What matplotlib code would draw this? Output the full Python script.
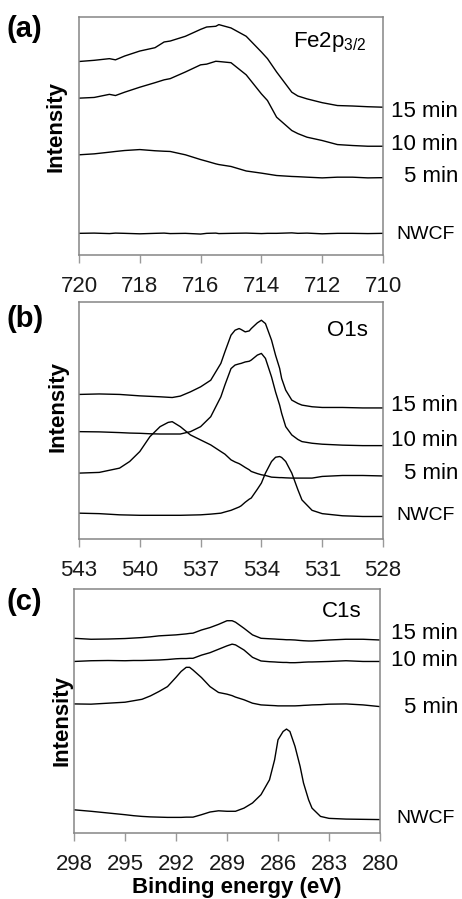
import matplotlib
matplotlib.use('Agg')
import matplotlib.pyplot as plt
import matplotlib.transforms as mtransforms
import numpy as np

plt.rcParams['font.family'] = ['Liberation Sans', 'DejaVu Sans']
plt.rcParams['mathtext.default'] = 'regular'

labels = ['15 min', '10 min', '5 min', 'NWCF']

# Fe2p3/2 region
fe_be = [720, 719.5, 719, 718.8, 718.5, 718, 717.5, 717.2, 717, 716.5, 716, 715.8, 715.5, 715.4,
         715, 714.5, 714, 713.8, 713.5, 713, 712.8, 712.5, 712, 711.5, 711, 710.5, 710]
fe_15 = [81.3, 81.8, 82.5, 82.0, 83.6, 85.7, 87.1, 89.5, 89.9, 91.9, 94.8, 95.8, 96.1, 96.8,
         95.4, 91.9, 85.3, 82.5, 76.9, 68.4, 66.8, 65.6, 64.0, 62.8, 62.6, 62.3, 62.1]
fe_10 = [65.9, 66.2, 67.5, 67.0, 68.4, 70.5, 72.4, 73.6, 74.1, 76.9, 79.9, 80.2, 81.4, 81.3,
         80.8, 75.7, 67.7, 64.9, 57.9, 52.3, 51.0, 49.5, 48.1, 46.4, 46.0, 45.7, 45.7]
fe_5 = [42.1, 42.5, 43.2, 43.5, 43.9, 44.3, 43.8, 43.6, 43.5, 42.1, 40.1, 39.4, 38.3, 38.0,
        37.2, 35.3, 34.4, 34.0, 33.4, 33.0, 32.9, 32.7, 32.4, 32.7, 32.7, 32.4, 32.5]
fe_nw = [9.1, 9.2, 9.0, 9.2, 9.1, 8.9, 9.1, 9.2, 9.0, 9.1, 8.8, 9.1, 9.2, 9.0,
         9.1, 9.2, 9.0, 9.1, 9.1, 9.3, 9.1, 9.2, 8.9, 9.1, 9.1, 9.0, 9.1]

# O1s region
o_be = [543, 542, 541, 540.5, 540, 539.5, 539, 538.6, 538.4, 538, 537.5, 537, 536.5, 536, 535.8,
        535.5, 535.3, 535.1, 535, 534.8, 534.6, 534.5, 534.2, 534, 533.8, 533.5, 533.3, 533.1,
        533, 532.8, 532.5, 532.2, 532, 531.5, 531, 530, 529, 528]
o_15 = [61.0, 61.2, 61.0, 60.7, 60.4, 60.2, 60.0, 59.8, 59.7, 60.3, 62.1, 64.2, 67.0, 74.1, 79.0,
        86.0, 88.1, 88.8, 88.4, 87.4, 87.8, 88.8, 91.2, 92.3, 90.9, 83.9, 77.5, 72.0,
        67.7, 62.8, 58.6, 57.2, 56.5, 55.8, 55.5, 55.5, 55.3, 55.3]
o_10 = [45.3, 45.2, 44.9, 44.7, 44.6, 44.4, 44.3, 44.3, 44.3, 44.3, 45.3, 47.4, 51.6, 60.0, 65.0,
        71.9, 73.4, 73.9, 74.1, 74.7, 75.0, 75.5, 77.6, 78.3, 76.2, 68.4, 62.0, 56.5,
        53.0, 47.4, 43.9, 42.0, 41.1, 40.4, 40.0, 39.6, 39.4, 39.4]
o_5 = [27.8, 28.1, 29.9, 32.7, 36.9, 43.2, 47.4, 49.2, 49.5, 47.4, 43.9, 41.8, 39.7, 36.9, 35.8,
       33.4, 32.5, 31.8, 31.3, 30.2, 29.2, 28.5, 27.6, 27.1, 26.8, 26.1, 26.0, 25.9,
       25.9, 25.8, 25.7, 25.7, 25.7, 25.7, 26.4, 26.8, 26.8, 26.6]
o_nw = [10.9, 10.7, 10.2, 10.1, 10.0, 10.0, 10.0, 10.0, 10.0, 10.0, 10.1, 10.2, 10.5, 10.9, 11.4,
        12.1, 12.8, 13.5, 14.0, 15.5, 16.8, 17.3, 21.0, 23.6, 27.8, 32.7, 34.5, 34.8,
        34.4, 32.7, 27.8, 20.8, 16.5, 12.1, 10.7, 9.8, 9.5, 9.5]

# C1s region
c_be = [298, 297, 296, 295, 294.5, 294, 293.5, 293, 292.5, 292, 291.7, 291.4, 291.2, 291, 290.5,
        290, 289.5, 289, 288.7, 288.5, 288, 287.5, 287, 286.5, 286.2, 286, 285.7, 285.5, 285.3,
        285, 284.7, 284.5, 284.2, 284, 283.5, 283, 282, 281, 280]
c_15 = [79.8, 79.4, 79.5, 79.7, 79.9, 80.1, 80.4, 80.8, 81.0, 81.2, 81.4, 81.6, 81.8, 81.9, 83.2,
        84.2, 85.5, 87.0, 87.0, 86.4, 83.9, 81.2, 79.8, 79.6, 79.5, 79.4, 79.3, 79.2, 79.2,
        79.1, 78.9, 78.8, 78.7, 78.7, 78.9, 79.1, 79.4, 79.4, 79.1]
c_10 = [70.3, 70.6, 70.7, 70.6, 70.7, 70.7, 70.8, 70.9, 71.1, 71.4, 71.5, 71.5, 71.6, 71.6, 72.9,
        73.9, 75.3, 76.7, 77.4, 77.1, 75.0, 72.0, 70.5, 70.2, 70.1, 70.0, 69.9, 69.9, 69.8,
        69.8, 69.9, 70.0, 70.1, 70.1, 70.2, 70.3, 70.6, 70.3, 70.3]
c_5 = [52.9, 52.8, 53.2, 53.6, 54.2, 54.8, 56.2, 58.0, 60.0, 63.8, 66.2, 67.9, 67.9, 66.8, 63.7,
       60.0, 57.6, 56.9, 56.3, 55.7, 54.6, 53.2, 52.5, 52.3, 52.2, 52.1, 52.1, 52.1, 52.1,
       52.1, 52.2, 52.3, 52.4, 52.5, 52.6, 52.8, 52.9, 52.5, 51.8]
c_nw = [9.5, 8.9, 8.2, 7.5, 7.1, 6.8, 6.6, 6.5, 6.4, 6.4, 6.4, 6.5, 6.5, 6.5, 7.5,
        8.6, 9.1, 8.9, 8.9, 8.9, 10.2, 12.3, 15.7, 21.8, 30.0, 38.2, 41.6, 42.6, 41.6,
        35.5, 27.3, 20.5, 13.6, 10.2, 6.8, 6.0, 5.7, 5.6, 5.5]

panels = [
    dict(tag='(a)', title='Fe2p$_{3/2}$', be=fe_be, ys=[fe_15, fe_10, fe_5, fe_nw],
         xlim=(720, 710), ticks=[720, 718, 716, 714, 712, 710],
         lab_y=[60.3, 46.4, 33.1, 8.8], title_pos=(0.704, 89.5)),
    dict(tag='(b)', title='O1s', be=o_be, ys=[o_15, o_10, o_5, o_nw],
         xlim=(543, 528), ticks=[543, 540, 537, 534, 531, 528],
         lab_y=[56.5, 41.4, 27.8, 9.8], title_pos=(0.816, 88.1)),
    dict(tag='(c)', title='C1s', be=c_be, ys=[c_15, c_10, c_5, c_nw],
         xlim=(298, 280), ticks=[298, 295, 292, 289, 286, 283, 280],
         lab_y=[81.9, 70.5, 51.6, 6.1], title_pos=(0.81, 90.7)),
]

W, H = 462, 899
fig = plt.figure(figsize=(W / 100, H / 100), dpi=100)

# axes boxes in pixels: left, right, top, bottom
boxes = [(79, 383, 17, 255), (79, 383, 302, 539), (74, 380, 589, 833)]
tag_y = [29, 319, 602]
ylab_pos = [(56, 127), (58, 406), (62, 720)]

for p, (l, r, t, b), ty, (yx, yy) in zip(panels, boxes, tag_y, ylab_pos):
    ax = fig.add_axes([l / W, (H - b) / H, (r - l) / W, (b - t) / H])
    for y in p['ys']:
        ax.plot(p['be'], y, color='black', lw=1.0)
    ax.set_xlim(*p['xlim'])
    ax.set_ylim(0, 100)
    ax.set_xticks(p['ticks'])
    ax.set_yticks([])
    for s in ax.spines.values():
        s.set_color('#858585')
        s.set_linewidth(1.1)
    ax.tick_params(axis='x', direction='out', length=6, width=1.0, color='#9a9a9a',
                   labelsize=16, pad=9, labelcolor='#1a1a1a')

    trans = mtransforms.blended_transform_factory(ax.transAxes, ax.transData)
    right = (458 - l) / (r - l)
    for lab, ly in zip(labels, p['lab_y']):
        fs = 14 if lab == 'NWCF' else 16
        xr = right - (0.012 if lab == 'NWCF' else 0)
        ax.text(xr, ly, lab, transform=trans, ha='right', va='center',
                fontsize=fs, clip_on=False)
    ax.text(p['title_pos'][0], p['title_pos'][1], p['title'], transform=trans,
            ha='left', va='center', fontsize=16)

    fig.text(6 / W, 1 - ty / H, p['tag'], ha='left', va='center',
             fontsize=21, fontweight='bold')
    fig.text(yx / W, 1 - yy / H, 'Intensity', rotation=90, ha='center', va='center',
             fontsize=16, fontweight='bold')

fig.text(237 / W, 1 - 887 / H, 'Binding energy (eV)', ha='center', va='center',
         fontsize=16, fontweight='bold')

fig.savefig('out.png', dpi=100)
